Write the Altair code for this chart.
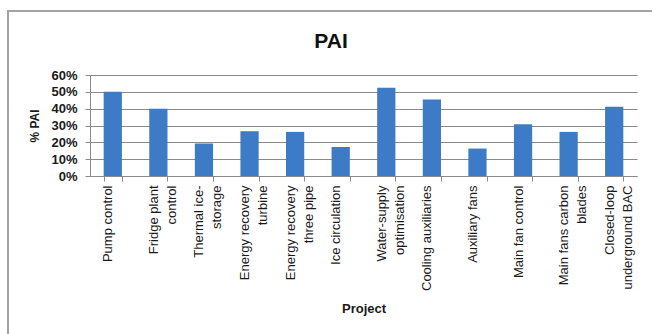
import altair as alt
import pandas as pd

# Project names; "|" marks where a tick label wraps onto a second line
projects = [
    "Pump control",
    "Fridge plant|control",
    "Thermal ice-|storage",
    "Energy recovery|turbine",
    "Energy recovery|three pipe",
    "Ice circulation",
    "Water-supply|optimisation",
    "Cooling auxiliaries",
    "Auxiliary fans",
    "Main fan control",
    "Main fans carbon|blades",
    "Closed-loop|underground BAC",
]
# Share of PAI per project
pai = [0.50, 0.40, 0.193, 0.266, 0.262, 0.173, 0.524, 0.455, 0.163, 0.308, 0.262, 0.411]
y_ticks = [0, 0.1, 0.2, 0.3, 0.4, 0.5, 0.6]

df = pd.DataFrame({"project": projects, "pai": pai})

FONT = "Liberation Sans"
GRAY = "#8a8a8a"

bars = alt.Chart(df).mark_bar(color="#3E7BC6").encode(
    x=alt.X(
        "project:N",
        sort=None,
        scale=alt.Scale(paddingInner=0.6, paddingOuter=0.3),
        axis=alt.Axis(
            title="Project",
            titleFont=FONT,
            titleFontSize=13,
            titleFontWeight="bold",
            titleColor="#1a1a1a",
            titlePadding=12,
            labelExpr="split(datum.label, '|')",
            labelAngle=-90,
            labelFont=FONT,
            labelFontSize=13,
            labelLineHeight=18,
            labelOffset=-5,
            labelColor="#1a1a1a",
            labelPadding=4,
            labelOverlap=False,
            tickBand="extent",
            tickSize=5,
            tickColor=GRAY,
            domainColor=GRAY,
            grid=False,
        ),
    ),
    y=alt.Y(
        "pai:Q",
        scale=alt.Scale(domain=[0, 0.6], nice=False),
        axis=alt.Axis(
            title="% PAI",
            titleFont=FONT,
            titleFontSize=12,
            titleFontWeight="bold",
            titleColor="#1a1a1a",
            titlePadding=9,
            values=y_ticks,
            format=".0%",
            labelFont=FONT,
            labelFontSize=13,
            labelFontWeight="bold",
            labelColor="#1a1a1a",
            labelPadding=8,
            labelOverlap=False,
            tickSize=5,
            tickColor=GRAY,
            domainColor=GRAY,
            grid=True,
            gridColor=GRAY,
            gridWidth=1.2,
        ),
    ),
)

# Outer chart frame (its right and bottom edges run past the page)
frame = alt.Chart(pd.DataFrame({"f": [0]})).mark_rect(
    filled=False, stroke="#a3a3a3", strokeWidth=2
).encode(
    x=alt.value(-82), x2=alt.value(700),
    y=alt.value(-64), y2=alt.value(400),
)

# Chart heading
heading = alt.Chart(pd.DataFrame({"t": ["PAI"]})).mark_text(
    font=FONT, fontSize=21, fontWeight="bold", color="#111111",
    align="center", baseline="alphabetic",
).encode(
    text="t:N", x=alt.value(241), y=alt.value(-27),
)

chart = alt.layer(frame, bars, heading).properties(
    width=547,
    height=101,
    autosize=alt.AutoSizeParams(type="none"),
    padding={"left": 90, "top": 75, "right": 15, "bottom": 158},
    background="white",
).configure_view(stroke=None)

chart.save("out.html", embed_options={"renderer": "svg", "actions": False})
